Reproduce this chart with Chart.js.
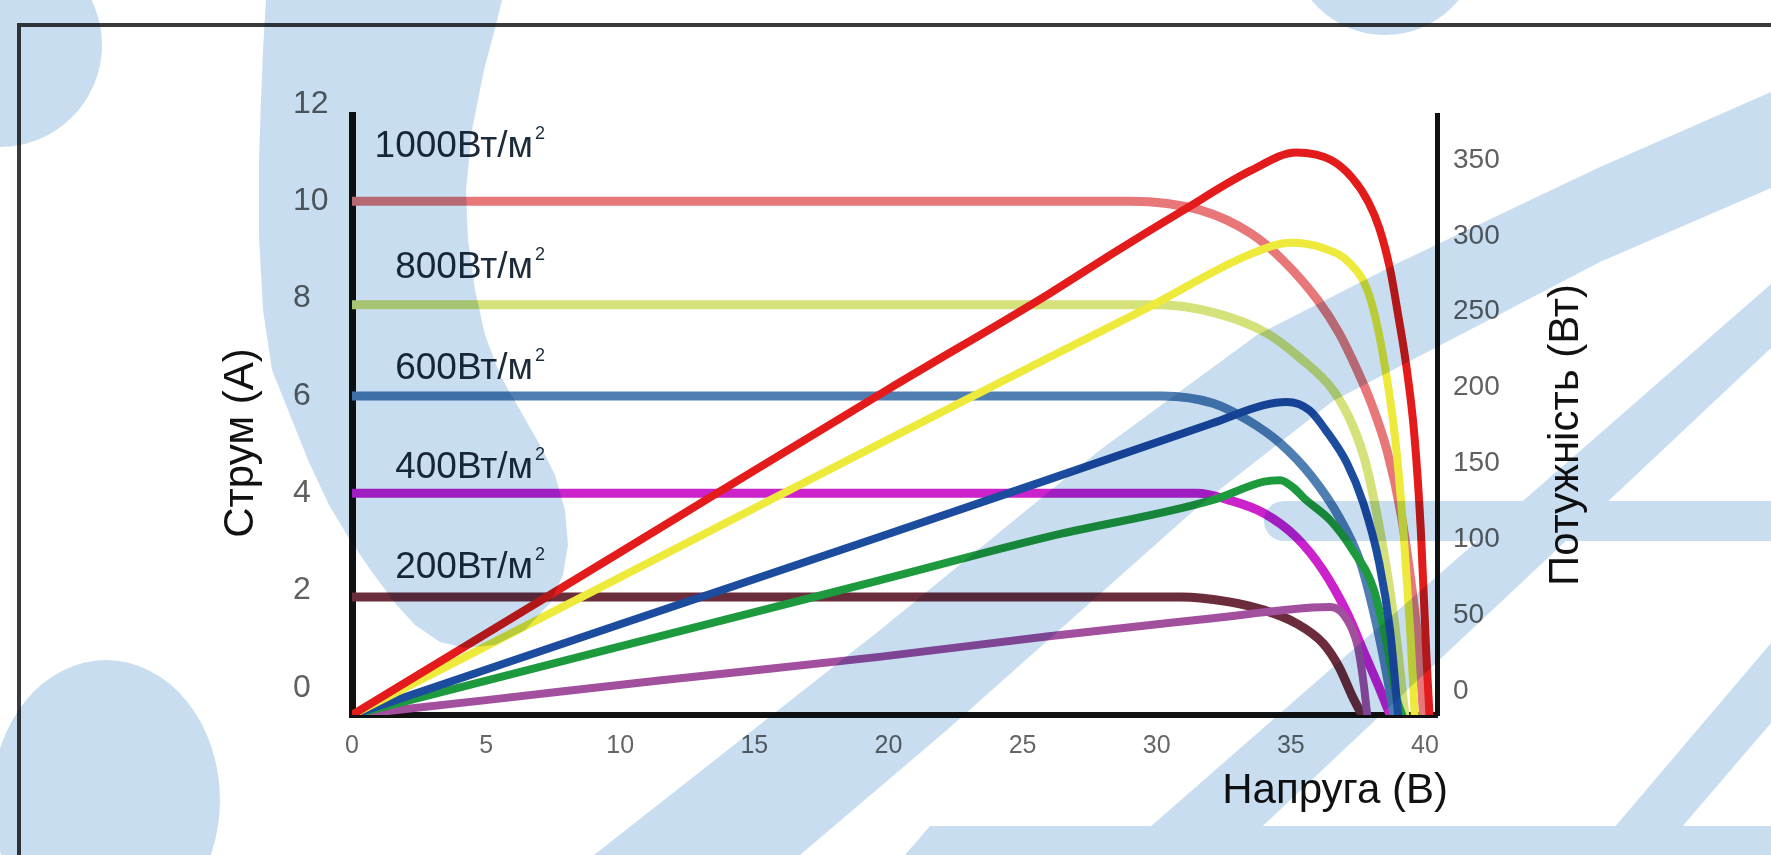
<!DOCTYPE html>
<html><head><meta charset="utf-8">
<script src="https://cdn.jsdelivr.net/npm/chart.js@4.4.1/dist/chart.umd.min.js"></script>
<style>html,body{margin:0;padding:0;background:#fff;overflow:hidden}canvas{display:block}</style>
</head><body>
<canvas id="c" width="1771" height="855"></canvas>
<script>
const FONT = '"Liberation Sans", Arial, sans-serif';

// ---- tick labels / texts ----
const voltageTicks = [0, 5, 10, 15, 20, 25, 30, 35, 40];
const currentTicks = [0, 2, 4, 6, 8, 10, 12];
const powerTicks = [0, 50, 100, 150, 200, 250, 300, 350];
const irradianceLabels = ['1000Вт/м', '800Вт/м', '600Вт/м', '400Вт/м', '200Вт/м'];
const titleCurrent = 'Струм (А)';
const titlePower = 'Потужність (Вт)';
const titleVoltage = 'Напруга (В)';

// ---- I-V curves (voltage V, current A) ----
const vI1000 = [0, 29.0, 31.6, 33.5, 34.7, 36.0, 36.8, 37.5, 38.0, 38.6, 39.1, 39.5, 39.75, 39.95];
const iI1000 = [10.0, 10.0, 9.82, 9.34, 8.79, 7.97, 7.29, 6.5, 5.85, 4.85, 3.6, 2.1, 0.9, -0.55];
const vI800 = [0, 30.0, 32.2, 34.1, 35.3, 36.6, 37.3, 37.8, 38.4, 38.85, 39.25];
const iI800 = [7.87, 7.87, 7.7, 7.29, 6.8, 6.1, 5.4, 4.6, 3.0, 1.4, -0.55];
const vI600 = [0, 30.2, 32.1, 33.4, 34.6, 35.8, 36.8, 37.6, 38.1, 38.5, 38.85];
const iI600 = [6.0, 6.0, 5.85, 5.5, 5.03, 4.33, 3.51, 2.57, 1.54, 0.5, -0.55];
const vI400 = [0, 31.5, 32.7, 34.0, 35.2, 36.2, 37.1, 37.8, 38.3, 38.7];
const iI400 = [4.0, 4.0, 3.86, 3.59, 3.1, 2.42, 1.54, 0.64, 0.0, -0.55];
const vI200 = [0, 30.9, 32.7, 34.0, 35.2, 36.2, 36.8, 37.3, 37.65];
const iI200 = [1.87, 1.87, 1.77, 1.6, 1.33, 0.92, 0.43, -0.18, -0.55];

// ---- P-V curves (voltage V, power W) ----
const vP1000 = [0, 10, 20, 26, 28.5, 31, 33.5, 35.2, 36.5, 37.3, 37.9, 38.3, 38.7, 39.0, 39.3, 39.6, 39.85, 40.05, 40.17];
const pP1000 = [-15.8, 91.5, 199, 262, 290, 317, 343, 355, 350, 338, 322, 305, 278, 248, 215, 170, 105, 25, -15.8];
const vP800 = [0, 10, 20, 26, 29.7, 33.5, 35.0, 36.2, 37.2, 37.9, 38.4, 38.9, 39.2, 39.45, 39.62];
const pP800 = [-15.8, 75, 166, 220, 253, 288, 295.5, 292, 282, 262, 225, 165, 105, 40, -15.8];
const vP600 = [0, 10, 19.66, 25.9, 32.1, 34.0, 34.85, 35.7, 36.3, 37.1, 37.7, 38.3, 38.7, 39.0];
const pP600 = [-15.8, 44, 101.5, 139, 176.7, 188.5, 190.5, 185, 172, 150, 124, 84, 40, -15.8];
const vP400 = [0, 10, 19.66, 25.9, 32.1, 34.0, 34.6, 35.1, 35.5, 36.5, 37.3, 38.1, 38.6, 38.95, 39.15];
const pP400 = [-15.8, 29.5, 73, 101.5, 126, 138, 139, 134, 127, 112, 93, 66.6, 29, -5, -15.8];
const vP200 = [0, 5, 11.45, 19.66, 25.9, 32.1, 35.8, 36.5, 37.1, 37.5, 37.7, 37.85];
const pP200 = [-15.8, -6, 7, 22.5, 36, 48, 55, 55.4, 47, 29, 7, -15.8];

// ---- styles ----
const ivColors = ['#e8777a', '#d5e17a', '#4f7fb2', '#cc22cc', '#6b2d3b'];
const pvColors = ['#e31b1b', '#eeea3c', '#1b4c9e', '#1d9a3d', '#a24f9e'];

const pts = (vs, ys) => vs.map((v, i) => ({ x: v, y: ys[i] }));
const ivSets = [[vI1000, iI1000], [vI800, iI800], [vI600, iI600], [vI400, iI400], [vI200, iI200]];
const pvSets = [[vP1000, pP1000], [vP800, pP800], [vP600, pP600], [vP400, pP400], [vP200, pP200]];

const datasets = [];
pvSets.forEach((s, k) => datasets.push({
  label: 'P ' + irradianceLabels[k], data: pts(s[0], s[1]), yAxisID: 'yP',
  borderColor: pvColors[k], borderWidth: 8, order: 1,
  cubicInterpolationMode: 'monotone', pointRadius: 0, fill: false
}));
ivSets.forEach((s, k) => datasets.push({
  label: 'I ' + irradianceLabels[k], data: pts(s[0], s[1]), yAxisID: 'yI',
  borderColor: ivColors[k], borderWidth: 9, order: 2,
  cubicInterpolationMode: 'monotone', pointRadius: 0, fill: false
}));

const labelOffsets = [-44, -27, -17, -15, -19];

function bluePath(c) {
  c.fillStyle = '#c8def0';
  const poly = (p) => { c.beginPath(); c.moveTo(p[0][0], p[0][1]); for (let i = 1; i < p.length; i++) c.lineTo(p[i][0], p[i][1]); c.closePath(); c.fill(); };
  c.beginPath(); c.arc(0, 45, 102, 0, Math.PI * 2); c.fill();
  c.beginPath(); c.arc(1385, -60, 95, 0, Math.PI * 2); c.fill();
  c.beginPath(); c.ellipse(106, 800, 114, 140, 0, 0, Math.PI * 2); c.fill();
  poly([[266,0],[263,50],[261,100],[259,160],[259,237],[263,310],[272,370],[288,410],[308,460],[329,505],[350,540],[372,572],[395,603],[415,625],[440,642],[465,648],
        [495,645],[525,630],[550,603],[563,575],[568,545],[565,510],[555,475],[540,445],[520,410],[500,375],[485,335],[475,290],[468,240],[466,190],[472,130],[484,70],[496,25],[502,0]]);
  poly([[594,855],[753,730],[880,630],[1100,450],[1257,335],[1400,262],[1600,167],[1771,92],[1771,188],[1600,262],[1460,335],[1333,401],[1200,505],[947,730],[800,855]]);
  poly([[1118,855],[1436,577],[1604,430],[1771,284],[1771,348],[1684,430],[1436,663],[1232,855]]);
  poly([[1591,855],[1771,643],[1771,723],[1658,855]]);
  c.beginPath(); c.arc(1284, 521, 20, Math.PI / 2, Math.PI * 1.5); c.lineTo(1771, 501); c.lineTo(1771, 541); c.closePath(); c.fill();
  poly([[930,826],[1771,826],[1771,855],[905,855]]);
}

const overlay = {
  id: 'overlay',
  beforeDraw(chart) {
    const ctx = chart.ctx;
    ctx.save();
    ctx.fillStyle = '#ffffff';
    ctx.fillRect(0, 0, chart.width, chart.height);
    ctx.strokeStyle = '#3a3a3a'; ctx.lineWidth = 4;
    ctx.beginPath(); ctx.moveTo(19, 855); ctx.lineTo(19, 25); ctx.lineTo(1771, 25); ctx.stroke();
    ctx.restore();
  },
  afterDraw(chart) {
    const ctx = chart.ctx, area = chart.chartArea, yI = chart.scales.yI;
    ctx.save();
    // irradiance labels
    ctx.fillStyle = '#1c2b3a';
    ivSets.forEach((s, k) => {
      const xr = area.left + 181;
      const y = yI.getPixelForValue(s[1][0]) + labelOffsets[k];
      ctx.font = '37px ' + FONT; ctx.textAlign = 'right'; ctx.textBaseline = 'alphabetic';
      ctx.fillText(irradianceLabels[k], xr, y);
      ctx.font = '18px ' + FONT; ctx.textAlign = 'left';
      ctx.fillText('2', xr + 2, y - 18);
    });
    // axis titles
    ctx.fillStyle = '#111';
    ctx.font = '42px ' + FONT; ctx.textAlign = 'center'; ctx.textBaseline = 'middle';
    ctx.save(); ctx.translate(241, 443); ctx.rotate(-Math.PI / 2); ctx.fillText(titleCurrent, 0, 0); ctx.restore();
    ctx.save(); ctx.translate(1566, 435); ctx.rotate(-Math.PI / 2); ctx.fillText(titlePower, 0, 0); ctx.restore();
    ctx.textAlign = 'right'; ctx.textBaseline = 'alphabetic';
    ctx.fillText(titleVoltage, 1448, 803);
    // decoration (multiply)
    const off = document.createElement('canvas');
    off.width = chart.width; off.height = chart.height;
    bluePath(off.getContext('2d'));
    ctx.globalCompositeOperation = 'multiply';
    ctx.drawImage(off, 0, 0);
    ctx.restore();
  }
};

const gridOff = { display: true, drawOnChartArea: false, drawTicks: false, color: 'rgba(0,0,0,0)' };

new Chart(document.getElementById('c'), {
  type: 'line',
  data: { datasets },
  options: {
    responsive: false, animation: false, devicePixelRatio: 1,
    layout: { padding: { left: 293, right: 234, top: 115, bottom: 100 } },
    plugins: { legend: { display: false }, tooltip: { enabled: false } },
    elements: { point: { radius: 0 }, line: { borderCapStyle: 'round', borderJoinStyle: 'round' } },
    scales: {
      x: {
        type: 'linear', position: 'bottom', min: 0, max: 40.45,
        afterBuildTicks: s => { s.ticks = voltageTicks.map(v => ({ value: v })); },
        afterFit: s => { s.height = 40; },
        grid: gridOff,
        border: { display: true, color: '#111', width: 6 },
        ticks: { color: '#666', font: { family: FONT, size: 25 }, padding: 16, maxRotation: 0, autoSkip: false }
      },
      yI: {
        type: 'linear', position: 'left', min: -0.554, max: 11.77,
        afterBuildTicks: s => { s.ticks = currentTicks.map(v => ({ value: v })); },
        afterFit: s => { s.width = 59; },
        grid: gridOff,
        border: { display: true, color: '#111', width: 7 },
        ticks: { color: '#606060', font: { family: FONT, size: 32 }, crossAlign: 'far', padding: 0, autoSkip: false }
      },
      yP: {
        type: 'linear', position: 'right', min: -15.8, max: 379.7,
        afterBuildTicks: s => { s.ticks = powerTicks.map(v => ({ value: v })); },
        afterFit: s => { s.width = 100; },
        grid: gridOff,
        border: { display: true, color: '#111', width: 5 },
        ticks: { color: '#606060', font: { family: FONT, size: 28 }, padding: 16, autoSkip: false }
      }
    }
  },
  plugins: [overlay]
});
</script>
</body></html>
